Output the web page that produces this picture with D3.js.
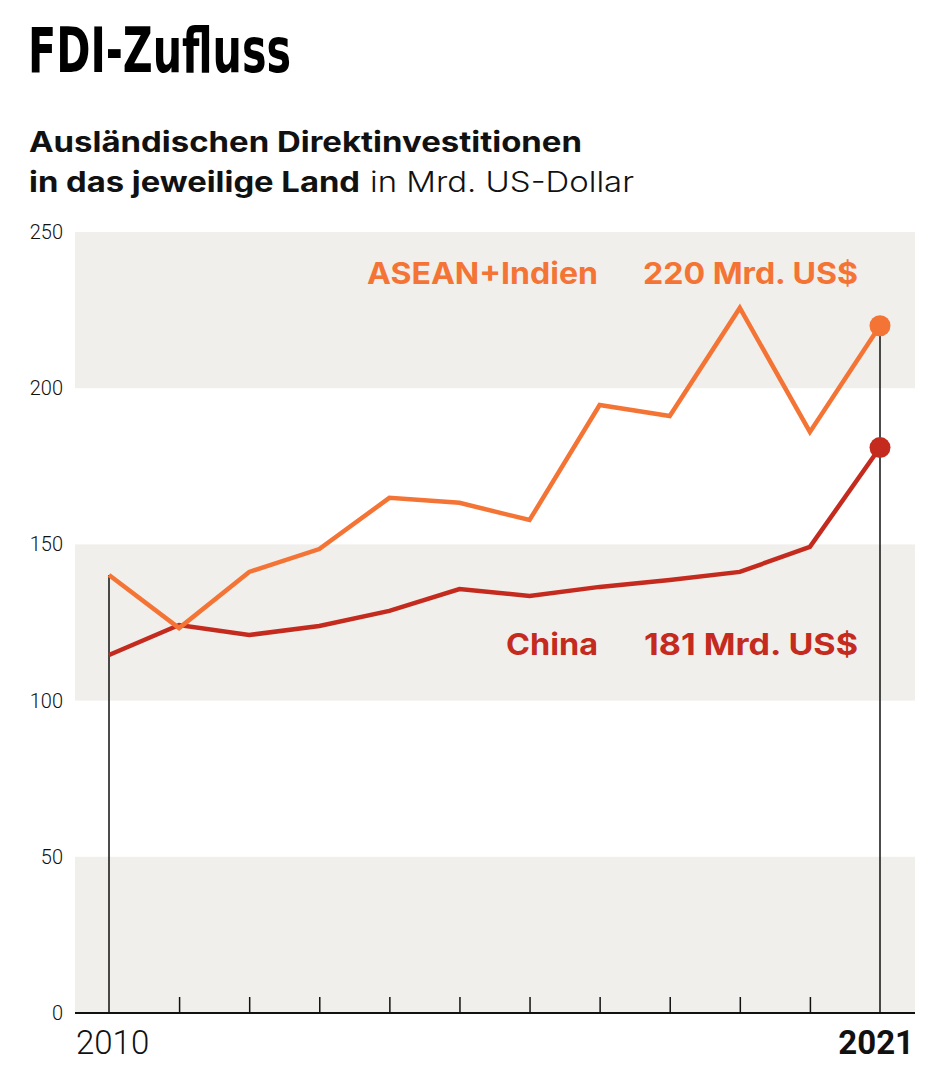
<!DOCTYPE html>
<html><head><meta charset="utf-8">
<script src="https://cdn.jsdelivr.net/npm/d3@7"></script>
<style>body{margin:0;background:#fff}svg{display:block}</style>
</head><body>
<script>
const years = [2010,2011,2012,2013,2014,2015,2016,2017,2018,2019,2020,2021];
const asean = [140.2,123.2,141.2,148.5,164.9,163.3,157.8,194.6,191.1,225.7,186.0,220];
const china = [114.6,124.2,121.0,123.9,128.7,135.7,133.5,136.4,138.6,141.2,149.2,181];
const yTicks = [0,50,100,150,200,250];
const bands = [[200,250],[100,150],[0,50]];
const seriesNames = ["ASEAN+Indien","China"];
const seriesLabels = ["220 Mrd. US$","181 Mrd. US$"];
const colors = ["#F47435","#C42B1E"];

const W=942,H=1087;
const svg=d3.select("body").append("svg").attr("width",W).attr("height",H);
const font="Roboto, 'Liberation Sans', sans-serif";
const font2="Inter, 'Liberation Sans', sans-serif";

const x=d3.scaleLinear().domain([2010,2021]).range([109,880]);
const y=d3.scaleLinear().domain([0,250]).range([1013,232]);
const left=75,right=915;

function fit(sel,w){ sel.attr("textLength",w).attr("lengthAdjust","spacingAndGlyphs"); return sel; }

// title
fit(svg.append("text").attr("x",28).attr("y",72).text("FDI-Zufluss")
 .attr("font-family","'DejaVu Sans Condensed','Liberation Sans Narrow',sans-serif").attr("font-weight","bold")
 .attr("font-size",63).attr("fill","#000"),263);

fit(svg.append("text").attr("font-family",font2).attr("font-size",28).attr("fill","#111")
 .attr("x",29).attr("y",152).attr("font-weight","bold").text("Ausländischen Direktinvestitionen"),553);
const l2=svg.append("text").attr("font-family",font2).attr("font-size",28).attr("fill","#111").attr("y",192);
fit(l2.append("tspan").attr("x",29).attr("font-weight","bold").text("in das jeweilige Land"),331);
fit(l2.append("tspan").attr("x",370).attr("font-weight","300").text("in Mrd. US-Dollar"),264);

// bands
svg.append("g").selectAll("rect").data(bands).join("rect")
 .attr("x",left).attr("width",right-left)
 .attr("y",d=>y(d[1])).attr("height",d=>y(d[0])-y(d[1])).attr("fill","#F0EFEB");

// y labels
svg.append("g").selectAll("text").data(yTicks).join("text")
 .attr("x",63).attr("y",d=>y(d)).attr("dy","0.35em").attr("text-anchor","end")
 .attr("font-family",font).attr("font-weight","300").attr("font-size",20).attr("fill","#111").text(d=>d);

// x axis
const gx=svg.append("g").attr("transform",`translate(0,${y(0)})`)
 .call(d3.axisBottom(x).tickValues(years.slice(1,-1)).tickSize(-16).tickFormat(""));
gx.select(".domain").remove();
gx.selectAll(".tick line").attr("stroke","#111").attr("stroke-width",1.5);
svg.append("line").attr("x1",left).attr("x2",right).attr("y1",y(0)).attr("y2",y(0)).attr("stroke","#111").attr("stroke-width",2);

// vertical markers
svg.append("line").attr("x1",x(2010)).attr("x2",x(2010)).attr("y1",y(asean[0])).attr("y2",y(0)).attr("stroke","#111").attr("stroke-width",1.5);
svg.append("line").attr("x1",x(2021)).attr("x2",x(2021)).attr("y1",y(asean[11])).attr("y2",y(0)).attr("stroke","#111").attr("stroke-width",1.5);

svg.append("text").attr("x",76).attr("y",1054).attr("font-family",font).attr("font-weight","300").attr("font-size",33).attr("fill","#111").text(years[0]);
svg.append("text").attr("x",914).attr("y",1054).attr("text-anchor","end").attr("font-family",font).attr("font-weight","bold").attr("font-size",33).attr("fill","#111").text(years[years.length-1]);

// lines
const line=d3.line().x((d,i)=>x(years[i])).y(d=>y(d));
[china,asean].forEach((s,k)=>{
  const c = k===0?colors[1]:colors[0];
  svg.append("path").datum(s).attr("d",line).attr("fill","none").attr("stroke",c).attr("stroke-width",4.5).attr("stroke-linejoin","miter");
  svg.append("circle").attr("cx",x(2021)).attr("cy",y(s[s.length-1])).attr("r",10.5).attr("fill",c);
});

// labels
const labY=[284,655];
const nameW=[231,92], valW=[215,214];
seriesNames.forEach((n,i)=>{
  fit(svg.append("text").attr("x",598-nameW[i]).attr("y",labY[i]).attr("font-family",font2).attr("font-weight","bold").attr("font-size",30).attr("fill",colors[i]).text(n),nameW[i]);
  fit(svg.append("text").attr("x",858-valW[i]).attr("y",labY[i]).attr("font-family",font2).attr("font-weight","bold").attr("font-size",30).attr("fill",colors[i]).text(seriesLabels[i]),valW[i]);
});
</script>
</body></html>
